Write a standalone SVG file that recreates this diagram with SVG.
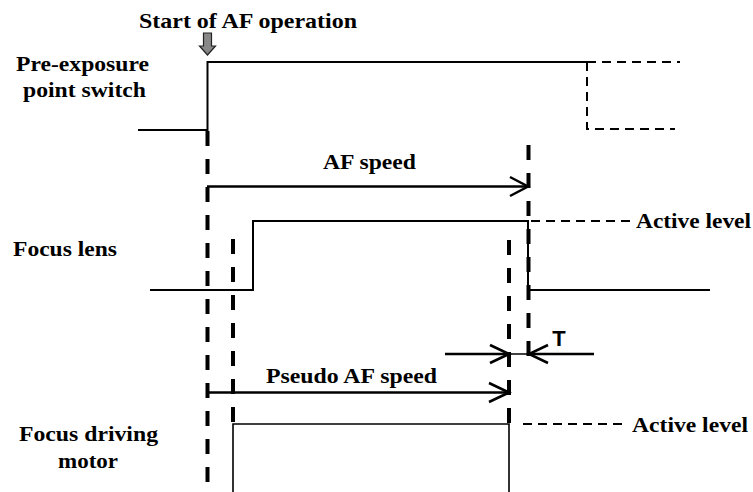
<svg xmlns="http://www.w3.org/2000/svg" width="753" height="492" viewBox="0 0 753 492">
<style>
.lbl{font-family:"Liberation Serif","Times New Roman",serif;font-weight:bold;font-size:21.5px;fill:#000}
.sig{fill:none;stroke:#000;stroke-width:2}
.dash{fill:none;stroke:#000;stroke-width:2;stroke-dasharray:9 6}
.mark{fill:none;stroke:#000;stroke-width:4;stroke-dasharray:15 13}
.arr{fill:none;stroke:#000;stroke-width:2.5}
</style>
<rect width="753" height="492" fill="#fff"/>
<g id="start-label">
<text class="lbl" x="139" y="28" textLength="218" lengthAdjust="spacingAndGlyphs">Start of AF operation</text>
<path d="M203.5,33 H211.5 V46 H215.5 L207.5,55 L199.5,46 H203.5 Z" fill="#888" stroke="#222" stroke-width="1.2"/>
</g>
<g id="pre-exposure">
<text class="lbl" x="16" y="71" textLength="133" lengthAdjust="spacingAndGlyphs">Pre-exposure</text>
<text class="lbl" x="23" y="97" textLength="123" lengthAdjust="spacingAndGlyphs">point switch</text>
<polyline class="sig" points="138,130 207.5,130 207.5,62 587,62"/>
<polyline class="dash" points="587,62 680,62"/>
<polyline class="dash" points="587,62 587,129 675,129"/>
</g>
<g id="focus-lens">
<text class="lbl" x="13" y="256" textLength="104" lengthAdjust="spacingAndGlyphs">Focus lens</text>
<polyline class="sig" points="150,290 253,290 253,221 528,221 528,290 710,290"/>
<line class="dash" x1="531" y1="221" x2="632" y2="221"/>
<text class="lbl" x="636" y="228" textLength="115" lengthAdjust="spacingAndGlyphs">Active level</text>
</g>
<g id="focus-motor">
<text class="lbl" x="19" y="441" textLength="139" lengthAdjust="spacingAndGlyphs">Focus driving</text>
<text class="lbl" x="58" y="468" textLength="60" lengthAdjust="spacingAndGlyphs">motor</text>
<polyline class="sig" points="233,492 233,424 509,424 509,492" style="stroke-width:1.6"/>
<line class="dash" x1="523" y1="424" x2="628" y2="424"/>
<text class="lbl" x="632" y="432" textLength="116" lengthAdjust="spacingAndGlyphs">Active level</text>
</g>
<g id="connectors">
<line class="mark" x1="207.5" y1="131" x2="207.5" y2="492"/>
<line class="mark" x1="233" y1="239" x2="233" y2="424"/>
<line class="mark" x1="528.5" y1="145" x2="528.5" y2="362"/>
<line class="mark" x1="509" y1="240" x2="509" y2="424"/>
<line class="arr" x1="207" y1="186.5" x2="527" y2="186.5"/>
<polyline class="arr" points="510,177 528,186.5 510,196"/>
<text class="lbl" x="323" y="169" textLength="93" lengthAdjust="spacingAndGlyphs">AF speed</text>
<line class="arr" x1="207" y1="392.5" x2="508" y2="392.5"/>
<polyline class="arr" points="489,383 509,392.5 489,402"/>
<text class="lbl" x="266" y="383" textLength="171" lengthAdjust="spacingAndGlyphs">Pseudo AF speed</text>
<line class="arr" x1="445" y1="354" x2="508" y2="354"/>
<polyline class="arr" points="490,345 509,354 490,363"/>
<line x1="509" y1="354" x2="528" y2="354" stroke="#000" stroke-width="1.5"/>
<line class="arr" x1="529" y1="354" x2="594" y2="354"/>
<polyline class="arr" points="548,345 529,354 548,363"/>
<text x="559" y="345.5" text-anchor="middle" style="font-family:'Liberation Sans',Arial,sans-serif;font-weight:bold;font-size:22px">T</text>
</g>
</svg>
